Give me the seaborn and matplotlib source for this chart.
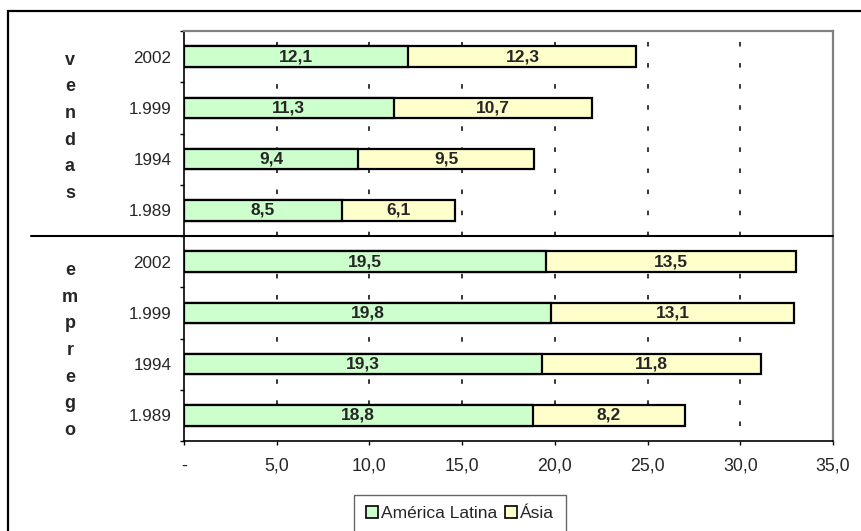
import numpy as np
import pandas as pd
import matplotlib
matplotlib.use("Agg")
import matplotlib.pyplot as plt
from matplotlib.patches import Rectangle, Patch
from matplotlib.ticker import FixedLocator
import seaborn as sns

# ---- data -------------------------------------------------------------
groups = ["vendas", "emprego"]
years = ["2002", "1.999", "1994", "1.989"]
america_latina_vendas = [12.1, 11.3, 9.4, 8.5]
asia_vendas = [12.3, 10.7, 9.5, 6.1]
america_latina_emprego = [19.5, 19.8, 19.3, 18.8]
asia_emprego = [13.5, 13.1, 11.8, 8.2]
series_names = ["América Latina", "Ásia"]
x_ticks = [0, 5, 10, 15, 20, 25, 30, 35]
x_tick_labels = ["-", "5,0", "10,0", "15,0", "20,0", "25,0", "30,0", "35,0"]

GREEN = "#CCFFCC"
YELLOW = "#FFFFCC"

rows = []
for g, al_vals, as_vals in [("vendas", america_latina_vendas, asia_vendas),
                            ("emprego", america_latina_emprego, asia_emprego)]:
    for yr, a, b in zip(years, al_vals, as_vals):
        rows.append({"cat": f"{g}|{yr}", "grupo": g, "ano": yr,
                     "al": a, "asia": b, "total": a + b})
df = pd.DataFrame(rows)
order = list(df["cat"])

# ---- style ------------------------------------------------------------
sns.set_style("white")
plt.rcParams["font.family"] = ["Liberation Sans", "DejaVu Sans"]

fig = plt.figure(figsize=(8.62, 5.31), dpi=100)
ax = fig.add_axes([184 / 862, 1 - 441 / 531, (833 - 184) / 862, (441 - 31) / 531])

# stacked horizontal bars: totals in yellow, latin america drawn on top
sns.barplot(data=df, y="cat", x="total", order=order, orient="h",
            color=YELLOW, saturation=1, edgecolor="black", linewidth=1.6,
            width=0.4, ax=ax, zorder=3)
sns.barplot(data=df, y="cat", x="al", order=order, orient="h",
            color=GREEN, saturation=1, edgecolor="black", linewidth=1.6,
            width=0.4, ax=ax, zorder=4)

# value labels in each segment
def fmt(v):
    return f"{v:.1f}".replace(".", ",")

for i, r in df.reset_index(drop=True).iterrows():
    ax.text(r["al"] / 2, i, fmt(r["al"]), ha="center", va="center",
            fontsize=12.5, fontweight="bold", zorder=5)
    ax.text(r["al"] + r["asia"] / 2, i, fmt(r["asia"]), ha="center",
            va="center", fontsize=12.5, fontweight="bold", zorder=5)

# ---- axes -------------------------------------------------------------
ax.set_xlim(0, 35)
ax.set_ylim(len(order) - 0.5, -0.5)
ax.set_xlabel("")
ax.set_ylabel("")

ax.set_xticks(x_ticks)
ax.set_xticklabels(x_tick_labels, fontsize=12.8)
ax.tick_params(axis="x", direction="out", length=3, width=1, color="black",
               pad=9, bottom=True)

ax.set_yticks(range(len(order)))
ax.set_yticklabels(df["ano"], fontsize=12.3)
ax.tick_params(axis="y", which="major", length=0, pad=9, left=True)
ax.yaxis.set_minor_locator(FixedLocator(np.arange(-0.5, len(order), 1.0)))
ax.tick_params(axis="y", which="minor", direction="out", length=3, width=1,
               color="black", left=True)

ax.grid(False)
ax.set_axisbelow(True)
for xv in x_ticks[1:-1]:
    ax.axvline(xv, color="black", linewidth=1.1, linestyle=(4, (3.0, 10.8)),
               zorder=1)

for side in ["left", "bottom"]:
    ax.spines[side].set_color("black")
    ax.spines[side].set_linewidth(1.2)
for side in ["top", "right"]:
    ax.spines[side].set_visible(True)
    ax.spines[side].set_color("#808080")
    ax.spines[side].set_linewidth(1.6)

# separator between the two groups
ytr = ax.get_yaxis_transform()
ax.plot([-0.236, 1.0], [3.5, 3.5], color="black", linewidth=1.5,
        transform=ytr, clip_on=False, zorder=6)

# vertical group titles
step = 0.52
for word, y0 in [("vendas", 0.16), ("emprego", 4.26)]:
    for k, ch in enumerate(word):
        ax.text(-0.1757, y0 + k * step, ch, transform=ytr, ha="center",
                va="baseline", fontsize=13, fontweight="bold")

# ---- legend -----------------------------------------------------------
handles = [Patch(facecolor=GREEN, edgecolor="black", linewidth=1.2),
           Patch(facecolor=YELLOW, edgecolor="black", linewidth=1.2)]
leg = fig.legend(handles, series_names, loc="upper center",
                 bbox_to_anchor=(460 / 862, 1 - 495 / 531), ncol=2,
                 fontsize=12.5, frameon=True, fancybox=False,
                 edgecolor="#404040", handlelength=0.7, handleheight=0.7,
                 handletextpad=0.2, columnspacing=0.4, borderpad=0.65,
                 borderaxespad=0)
leg.get_frame().set_linewidth(1.0)

# outer chart frame (only top and left edges fall inside the image)
fig.patches.append(Rectangle((8 / 862, -0.1), 1.2, 1 - 11 / 531 + 0.1,
                             transform=fig.transFigure, fill=False,
                             edgecolor="black", linewidth=1.6))

fig.savefig("out.png", dpi=100)
